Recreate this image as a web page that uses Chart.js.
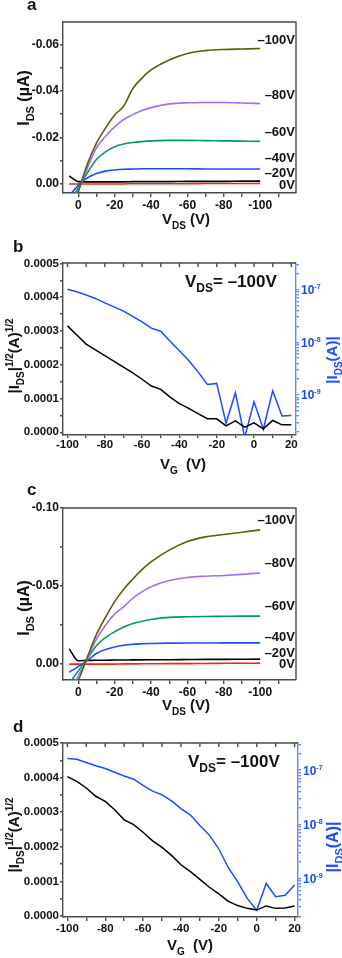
<!DOCTYPE html>
<html>
<head>
<meta charset="utf-8">
<script src="https://cdn.jsdelivr.net/npm/chart.js@4.4.1/dist/chart.umd.min.js"></script>
<style>
  html, body { margin: 0; padding: 0; background: #fff; }
  #fig { position: relative; width: 342px; height: 958px; overflow: hidden; }
  #fig canvas { position: absolute; left: 0; }
</style>
</head>
<body>
<div id="fig">
  <canvas id="panelA" width="342" height="230" style="top:0;width:342px;height:230px"></canvas>
  <canvas id="panelB" width="342" height="250" style="top:230px;width:342px;height:250px"></canvas>
  <canvas id="panelC" width="342" height="245" style="top:470px;width:342px;height:245px"></canvas>
  <canvas id="panelD" width="342" height="243" style="top:715px;width:342px;height:243px"></canvas>
</div>
<script>
const FONT = '"Liberation Sans", Arial, Helvetica, sans-serif';
Chart.defaults.font.family = FONT;
Chart.defaults.font.weight = 'bold';
Chart.defaults.color = '#111';

// ---- output curves: drain sweep, current in uA for each gate voltage ----
const vds = [5, 0, -5, -10, -15, -20, -25, -30, -35, -40, -50, -60, -70, -80, -90, -100];
const gateNames = ['–100V', '–80V', '–60V', '–40V', '–20V', '0V'];
const gateColors = ['#5e5e00', '#a270f2', '#00996b', '#1a4cff', '#000000', '#ff2200'];

const aVg100 = [0.016, 0.0035, -0.0085, -0.0175, -0.024, -0.0296, -0.0335, -0.041, -0.0455, -0.049, -0.0533, -0.0561, -0.0573, -0.0578, -0.058, -0.0582];
const aVg80 = [0.012, 0.003, -0.0068, -0.0155, -0.0205, -0.0245, -0.0277, -0.0298, -0.0316, -0.0328, -0.0344, -0.0349, -0.035, -0.035, -0.0348, -0.0345];
const aVg60 = [0.008, 0.0018, -0.0048, -0.0105, -0.0138, -0.016, -0.0172, -0.0178, -0.0182, -0.0185, -0.0187, -0.0187, -0.0186, -0.0185, -0.0184, -0.0183];
const aVg40 = [0.0052, 0.0006, -0.0026, -0.0045, -0.0055, -0.006, -0.0063, -0.0064, -0.0065, -0.0065, -0.0065, -0.0065, -0.0064, -0.0064, -0.0064, -0.0064];
const aVg20 = [-0.0034, -0.001, -0.0009, -0.0009, -0.0009, -0.0009, -0.0009, -0.001, -0.001, -0.001, -0.001, -0.0011, -0.0011, -0.0011, -0.0012, -0.0012];
const aVg0 = [0, 0, 0, 0, 0, 0, 0, -0.0001, -0.0001, -0.0001, -0.0001, -0.0001, -0.0002, -0.0002, -0.0002, -0.0002];

const cVg100 = [0.022, 0.0105, -0.0045, -0.019, -0.03, -0.04, -0.048, -0.0545, -0.0605, -0.0655, -0.073, -0.0785, -0.0815, -0.083, -0.0845, -0.086];
const cVg80 = [0.018, 0.0075, -0.0035, -0.016, -0.025, -0.032, -0.0367, -0.0423, -0.0463, -0.0495, -0.0535, -0.0555, -0.0563, -0.0568, -0.0575, -0.0584];
const cVg60 = [0.0123, 0.0044, -0.0035, -0.0118, -0.017, -0.0207, -0.0238, -0.026, -0.0275, -0.0286, -0.0299, -0.0303, -0.0305, -0.0306, -0.0307, -0.0307];
const cVg40 = [0.0053, 0.0016, -0.0024, -0.0068, -0.0093, -0.011, -0.0121, -0.0127, -0.013, -0.0132, -0.0134, -0.0135, -0.0135, -0.0136, -0.0136, -0.0136];
const cVg20 = [-0.0098, -0.0021, -0.0024, -0.0025, -0.0025, -0.0026, -0.0026, -0.0027, -0.0027, -0.0028, -0.0028, -0.0029, -0.003, -0.003, -0.0031, -0.0032];
const cVg0 = [0, 0, 0, 0, 0, 0, -0.0001, -0.0001, -0.0002, -0.0002, -0.0003, -0.0003, -0.0004, -0.0005, -0.0005, -0.0006];

// ---- transfer curves at VDS = -100 V ----
const vg = [-100, -95, -90, -85, -80, -75, -70, -65, -60, -55, -50, -45, -40, -35, -30, -25, -20, -15, -10, -5, 0, 5, 10, 15, 20];
const bRoot = [0.000315, 0.000288, 0.000261, 0.000244, 0.000227, 0.00021, 0.000193, 0.000176, 0.000157, 0.000137, 0.000127, 0.000104, 0.000085, 0.000071, 0.000055, 0.00004, 0.00004, 0.000019, 0.000034, 0.000015, 0.000028, 0.00001, 0.000035, 0.000022, 0.000022];
const bAbs = [1.02e-7, 9.1e-8, 7.9e-8, 6.8e-8, 5.6e-8, 4.7e-8, 3.9e-8, 3.1e-8, 2.45e-8, 1.86e-8, 1.62e-8, 1.05e-8, 6.9e-9, 4.5e-9, 2.75e-9, 1.58e-9, 1.66e-9, 2.9e-10, 1.1e-9, 1.58e-10, 7.4e-10, 2.24e-10, 1.2e-9, 4.0e-10, 4.1e-10];
const dRoot = [0.000403, 0.000389, 0.00037, 0.000346, 0.000331, 0.000307, 0.000278, 0.000264, 0.000242, 0.000217, 0.000198, 0.000175, 0.000148, 0.000128, 0.000106, 0.000083, 0.000064, 0.000042, 0.00003, 0.000022, 0.000017, 0.000029, 0.000022, 0.000023, 0.000029];
const dAbs = [1.64e-7, 1.58e-7, 1.38e-7, 1.2e-7, 1.07e-7, 9.1e-8, 7.8e-8, 6.8e-8, 5.2e-8, 4.1e-8, 3.5e-8, 2.7e-8, 1.95e-8, 1.48e-8, 9.5e-9, 6.3e-9, 3.5e-9, 1.58e-9, 8.7e-10, 4.3e-10, 2.6e-10, 8.1e-10, 4.6e-10, 4.9e-10, 7.6e-10];

// ---- ticks ----
const outXTicks = [0, -10, -20, -30, -40, -50, -60, -70, -80, -90, -100, -110];
const outXLabels = [0, -20, -40, -60, -80, -100];
const aYTicks = [0, -0.01, -0.02, -0.03, -0.04, -0.05, -0.06];
const aYLabels = [0, -0.02, -0.04, -0.06];
const cYTicks = [0, -0.025, -0.05, -0.075, -0.1];
const cYLabels = [0, -0.05, -0.1];
const trXTicks = [-100, -90, -80, -70, -60, -50, -40, -30, -20, -10, 0, 10, 20];
const trXLabels = [-100, -80, -60, -40, -20, 0, 20];
const trYTicks = [0, 0.00005, 0.0001, 0.00015, 0.0002, 0.00025, 0.0003, 0.00035, 0.0004, 0.00045, 0.0005];
const trYLabels = [0, 0.0001, 0.0002, 0.0003, 0.0004, 0.0005];
const logDecades = [-9, -8, -7];

const AXIS = '#4a4a4a';
const AXIS_W = 1.4;
const BLUE = '#1a4cff';
const BLUE_AXIS = '#5f86ff';

const near = (list, v) => list.some(l => Math.abs(l - v) < 1e-12);

// text with sub/superscript parts: mode 0 normal, 1 sub, 2 sup
function drawRich(ctx, it) {
  const size = it.size;
  const small = it.small || 0.68;
  const fontFor = m => 'bold ' + (m ? Math.round(size * small) : size) + 'px ' + FONT;
  let w = 0;
  const widths = it.parts.map(([t, m]) => {
    ctx.font = fontFor(m);
    const pw = ctx.measureText(t).width;
    w += pw;
    return pw;
  });
  ctx.save();
  ctx.translate(it.x, it.y);
  if (it.rot) ctx.rotate(it.rot);
  ctx.fillStyle = it.color || '#111';
  ctx.textBaseline = 'alphabetic';
  ctx.textAlign = 'left';
  let cx = it.align === 'left' ? 0 : it.align === 'right' ? -w : -w / 2;
  it.parts.forEach(([t, m], i) => {
    ctx.font = fontFor(m);
    const dy = m === 1 ? size * 0.32 : m === 2 ? -size * 0.42 : 0;
    ctx.fillText(t, cx, dy);
    cx += widths[i];
  });
  ctx.restore();
}

function notesPlugin(items) {
  return {
    id: 'notes',
    afterDraw(chart) { items.forEach(it => drawRich(chart.ctx, it)); }
  };
}

// box around the plot; transfer panels keep the blue right axis
function framePlugin(right, topTicks) {
  return {
    id: 'frame',
    afterDraw(chart) {
      const { ctx, chartArea: a } = chart;
      ctx.save();
      ctx.strokeStyle = AXIS;
      ctx.lineWidth = AXIS_W;
      ctx.beginPath();
      ctx.moveTo(a.left, a.top);
      ctx.lineTo(a.right, a.top);
      if (right) ctx.lineTo(a.right, a.bottom);
      if (topTicks) {
        const xs = chart.scales.x;
        xs.ticks.forEach(tk => {
          const px = xs.getPixelForValue(tk.value);
          ctx.moveTo(px, a.top);
          ctx.lineTo(px, a.top + 4);
        });
      }
      ctx.stroke();
      ctx.restore();
    }
  };
}

// decade labels on the log axis, drawn as 10 with a raised exponent
function decadePlugin() {
  return {
    id: 'decades',
    afterDraw(chart) {
      const s = chart.scales.y2;
      logDecades.forEach(e => {
        const py = s.getPixelForValue(Math.pow(10, e));
        drawRich(chart.ctx, {
          parts: [['10', 0], [String(e), 2]], x: s.left + 5, y: py + 4.5,
          size: 12, small: 0.62, color: BLUE, align: 'left'
        });
      });
    }
  };
}

function gateNotes(baselines) {
  return gateNames.map((name, i) => ({ parts: [[name, 0]], x: 295, y: baselines[i], size: 13, align: 'right' }));
}

function outputPanel(id, series, y, box, items) {
  return new Chart(document.getElementById(id), {
    type: 'line',
    data: {
      datasets: series.map((vals, i) => ({
        data: vals.map((v, j) => ({ x: vds[j], y: v })),
        borderColor: gateColors[i],
        borderWidth: 1.6,
        pointRadius: 0,
        cubicInterpolationMode: 'monotone',
        fill: false
      }))
    },
    options: {
      responsive: false,
      animation: false,
      events: [],
      layout: { padding: { top: box.top, right: box.right, left: 0, bottom: 0 } },
      plugins: { legend: { display: false }, tooltip: { enabled: false } },
      scales: {
        x: {
          type: 'linear', reverse: true, min: -119.7, max: 8.4,
          afterBuildTicks: s => { s.ticks = outXTicks.map(v => ({ value: v })); },
          afterFit: s => { s.height = box.xh; },
          ticks: {
            autoSkip: false, maxRotation: 0, padding: 1, color: '#111',
            font: { size: 12, weight: 'bold' },
            callback: v => near(outXLabels, v) ? String(v) : ''
          },
          grid: { drawOnChartArea: false, tickLength: 4, color: AXIS, lineWidth: AXIS_W },
          border: { color: AXIS, width: AXIS_W }
        },
        y: {
          type: 'linear', reverse: true, min: y.min, max: y.max,
          afterBuildTicks: s => { s.ticks = y.ticks.map(v => ({ value: v })); },
          afterFit: s => { s.width = box.left; },
          ticks: {
            autoSkip: false, padding: 1, color: '#111',
            font: { size: 12, weight: 'bold' },
            callback: v => near(y.labels, v) ? v.toFixed(2) : ''
          },
          grid: { drawOnChartArea: false, tickLength: 3, color: AXIS, lineWidth: AXIS_W },
          border: { color: AXIS, width: AXIS_W }
        }
      }
    },
    plugins: [framePlugin(true, false), notesPlugin(items)]
  });
}

function transferPanel(id, root, abs, range, box, items) {
  return new Chart(document.getElementById(id), {
    type: 'line',
    data: {
      datasets: [
        { data: root.map((v, j) => ({ x: vg[j], y: v })), yAxisID: 'y', borderColor: '#000', borderWidth: 1.5, pointRadius: 0, tension: 0 },
        { data: abs.map((v, j) => ({ x: vg[j], y: v })), yAxisID: 'y2', borderColor: BLUE, borderWidth: 1.5, pointRadius: 0, tension: 0 }
      ]
    },
    options: {
      responsive: false,
      animation: false,
      events: [],
      layout: { padding: { top: box.top, right: 0, left: 0, bottom: 0 } },
      plugins: { legend: { display: false }, tooltip: { enabled: false } },
      scales: {
        x: {
          type: 'linear', min: range.xMin, max: range.xMax,
          afterBuildTicks: s => { s.ticks = trXTicks.map(v => ({ value: v })); },
          afterFit: s => { s.height = box.xh; },
          ticks: {
            autoSkip: false, maxRotation: 0, padding: box.xpad, color: '#111',
            font: { size: 11.5, weight: 'bold' },
            callback: v => near(trXLabels, v) ? String(v) : ''
          },
          grid: { drawOnChartArea: false, tickLength: box.xtl, color: AXIS, lineWidth: AXIS_W },
          border: { color: AXIS, width: AXIS_W }
        },
        y: {
          type: 'linear', position: 'left', min: range.yMin, max: range.yMax,
          afterBuildTicks: s => { s.ticks = trYTicks.map(v => ({ value: v })); },
          afterFit: s => { s.width = box.left; },
          ticks: {
            autoSkip: false, padding: 1, color: '#111',
            font: { size: 11.5, weight: 'bold' },
            callback: v => near(trYLabels, v) ? v.toFixed(4) : ''
          },
          grid: { drawOnChartArea: false, tickLength: 3, color: AXIS, lineWidth: AXIS_W },
          border: { color: AXIS, width: AXIS_W }
        },
        y2: {
          type: 'logarithmic', position: 'right', min: range.logMin, max: range.logMax,
          afterBuildTicks: s => {
            const t = [];
            for (let e = -10; e <= -7; e++) {
              for (let k = 1; k <= 9; k++) {
                const v = k * Math.pow(10, e);
                if (v >= s.min && v <= s.max) t.push({ value: v });
              }
            }
            s.ticks = t;
          },
          afterFit: s => { s.width = box.rightW; },
          ticks: { autoSkip: false, padding: 2, color: BLUE, callback: () => '' },
          grid: { drawOnChartArea: false, tickLength: 3, color: BLUE_AXIS, lineWidth: AXIS_W },
          border: { color: BLUE_AXIS, width: AXIS_W }
        }
      }
    },
    plugins: [framePlugin(false, true), decadePlugin(), notesPlugin(items)]
  });
}

const HALF_PI = -Math.PI / 2;

outputPanel('panelA', [aVg100, aVg80, aVg60, aVg40, aVg20, aVg0],
  { min: -0.0696, max: 0.0039, ticks: aYTicks, labels: aYLabels },
  { top: 22, right: 46, left: 63, xh: 37 },
  [
    { parts: [['a', 0]], x: 27, y: 10, size: 17, align: 'left' },
    { parts: [['V', 0], ['DS', 1], [' (V)', 0]], x: 186, y: 224, size: 15 },
    { parts: [['I', 0], ['DS', 1], [' (µA)', 0]], x: 29, y: 98, size: 16, rot: HALF_PI }
  ].concat(gateNotes([44, 99, 136, 162, 177, 189]))
);

transferPanel('panelB', bRoot, bAbs,
  { xMin: -102.4, xMax: 22.5, yMin: -0.000008, yMax: 0.000501, logMin: 1.74e-10, logMax: 3.2e-7 },
  { top: 33, left: 63, rightW: 46, xh: 45, xtl: 3, xpad: 0 },
  [
    { parts: [['b', 0]], x: 13, y: 22, size: 17, align: 'left' },
    { parts: [['V', 0], ['DS', 1], ['= –100V', 0]], x: 185, y: 57, size: 17, align: 'left' },
    { parts: [['V', 0], ['G', 1], ['  (V)', 0]], x: 183, y: 239, size: 15 },
    { parts: [['|I', 0], ['DS', 1], ['|', 0], ['1/2', 2], ['(A)', 0], ['1/2', 2]], x: 19, y: 126, size: 15, rot: HALF_PI },
    { parts: [['|I', 0], ['DS', 1], ['(A)|', 0]], x: 337, y: 130, size: 15, rot: HALF_PI, color: BLUE }
  ]
);

outputPanel('panelC', [cVg100, cVg80, cVg60, cVg40, cVg20, cVg0],
  { min: -0.1, max: 0.0102, ticks: cYTicks, labels: cYLabels },
  { top: 38, right: 46, left: 63, xh: 35 },
  [
    { parts: [['c', 0]], x: 27, y: 25, size: 17, align: 'left' },
    { parts: [['V', 0], ['DS', 1], [' (V)', 0]], x: 186, y: 240, size: 15 },
    { parts: [['I', 0], ['DS', 1], [' (µA)', 0]], x: 29, y: 138, size: 16, rot: HALF_PI }
  ].concat(gateNotes([54, 97, 140, 171, 187, 198]))
);

transferPanel('panelD', dRoot, dAbs,
  { xMin: -102.3, xMax: 21.8, yMin: -0.000003, yMax: 0.0005, logMin: 1.95e-10, logMax: 3.16e-7 },
  { top: 28, left: 63, rightW: 44, xh: 41, xtl: 4, xpad: 1 },
  [
    { parts: [['d', 0]], x: 13, y: 17, size: 17, align: 'left' },
    { parts: [['V', 0], ['DS', 1], ['= –100V', 0]], x: 188, y: 52, size: 17, align: 'left' },
    { parts: [['V', 0], ['G', 1], ['  (V)', 0]], x: 190, y: 235, size: 15 },
    { parts: [['|I', 0], ['DS', 1], ['|', 0], ['1/2', 2], ['(A)', 0], ['1/2', 2]], x: 19, y: 120, size: 15, rot: HALF_PI },
    { parts: [['|I', 0], ['DS', 1], ['(A)|', 0]], x: 338, y: 132, size: 16, rot: HALF_PI, color: BLUE }
  ]
);
</script>
</body>
</html>
